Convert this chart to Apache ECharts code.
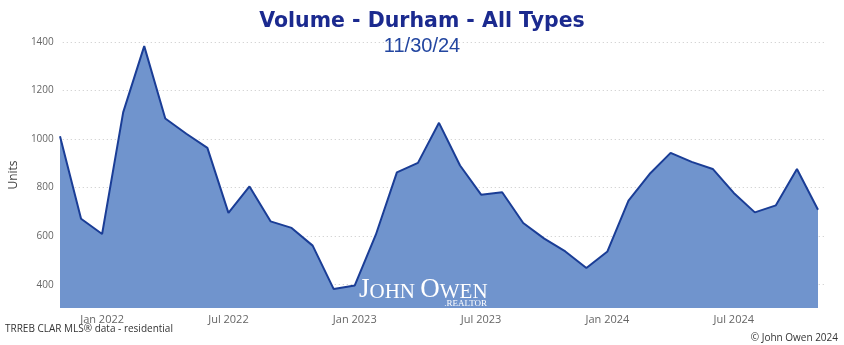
<!DOCTYPE html>
<html>
<head>
<meta charset="utf-8">
<script src="https://cdn.jsdelivr.net/npm/echarts@6/dist/echarts.min.js"></script>
<style>
html,body{margin:0;padding:0;background:#fff;}
#c{width:844px;height:345px;}
</style>
</head>
<body>
<div id="c"></div>
<script>
const months = [
  "Nov 2021","Dec 2021",
  "Jan 2022","Feb 2022","Mar 2022","Apr 2022","May 2022","Jun 2022","Jul 2022","Aug 2022","Sep 2022","Oct 2022","Nov 2022","Dec 2022",
  "Jan 2023","Feb 2023","Mar 2023","Apr 2023","May 2023","Jun 2023","Jul 2023","Aug 2023","Sep 2023","Oct 2023","Nov 2023","Dec 2023",
  "Jan 2024","Feb 2024","Mar 2024","Apr 2024","May 2024","Jun 2024","Jul 2024","Aug 2024","Sep 2024","Oct 2024","Nov 2024"
];
const volume = [
  1012, 672,
  609, 1110, 1383, 1085, 1022, 964, 696, 805, 661, 634, 561, 382,
  397, 606, 863, 902, 1067, 891, 771, 781, 654, 590, 537, 469,
  537, 746, 856, 943, 906, 877, 778, 698, 727, 877, 709
];
const shownLabels = ["Jan 2022","Jul 2022","Jan 2023","Jul 2023","Jan 2024","Jul 2024"];
const yMin = 304, yMax = 1400;

const chart = echarts.init(document.getElementById('c'));
chart.setOption({
  animation: false,
  backgroundColor: '#ffffff',
  title: [
    { text: 'Volume - Durham - All Types', left: 'center', top: 6,
      textStyle: { fontFamily: 'DejaVu Sans, Verdana', fontWeight: 'bold', fontSize: 20.5, color: '#1b2a8f' } },
    { text: '11/30/24', left: 'center', top: 31,
      textStyle: { fontFamily: 'Liberation Sans, Arial', fontWeight: 'normal', fontSize: 20, color: '#2346a0' } }
  ],
  grid: [
    { left: 53, right: 18, top: 42, bottom: 37 },
    { left: 60, right: 26, top: 42, bottom: 37 }
  ],
  xAxis: [
    { gridIndex: 0, type: 'category', data: months, show: false },
    { gridIndex: 1, type: 'category', data: months, boundaryGap: false,
      axisLine: { show: false }, axisTick: { show: false },
      axisLabel: {
        interval: function (i, v) { return shownLabels.indexOf(v) >= 0; },
        color: '#666', fontSize: 11, fontFamily: 'Open Sans, DejaVu Sans', margin: 6
      } }
  ],
  yAxis: [
    { gridIndex: 0, type: 'value', min: yMin, max: yMax,
      name: 'Units', nameLocation: 'middle', nameGap: 39, nameRotate: 90,
      nameTextStyle: { color: '#444', fontSize: 12, fontFamily: 'Open Sans, DejaVu Sans' },
      axisLine: { show: false }, axisTick: { show: false },
      axisLabel: { showMinLabel: false, formatter: function (v) { return String(v); },
        color: '#666', fontSize: 10, fontFamily: 'Open Sans, DejaVu Sans', margin: 9 },
      splitLine: { showMinLine: false, lineStyle: { type: [1, 3], color: '#c8c8c8', width: 1 } } },
    { gridIndex: 1, type: 'value', min: yMin, max: yMax, show: false, splitLine: { show: false } }
  ],
  series: [{
    type: 'line', xAxisIndex: 1, yAxisIndex: 1, data: volume,
    symbol: 'none', smooth: false,
    lineStyle: { color: '#1a3d96', width: 2 },
    areaStyle: { color: '#7094cd', opacity: 1 },
    z: 2
  }],
  graphic: [
    { type: 'text', left: 5, top: 324, style: { text: 'TRREB CLAR MLS® data - residential', fill: '#333', font: '10px "Open Sans", "DejaVu Sans"' } },
    { type: 'text', right: 6, top: 333, style: { text: '© John Owen 2024', fill: '#333', font: '10px "Open Sans", "DejaVu Sans"' } },
    { type: 'text', left: 359, top: 276, z: 10, style: {
        text: '{b|J}{s|OHN }{b|O}{s|WEN}', fill: '#ffffff',
        rich: {
          b: { fontFamily: 'Liberation Serif, DejaVu Serif', fontSize: 27, fill: '#ffffff', verticalAlign: 'bottom' },
          s: { fontFamily: 'Liberation Serif, DejaVu Serif', fontSize: 21, fill: '#ffffff', verticalAlign: 'bottom' }
        } } },
    { type: 'text', right: 357, top: 299, z: 10, style: { text: '.REALTOR', fill: '#ffffff', font: '9px "Liberation Serif", "DejaVu Serif"' } }
  ]
});
</script>
</body>
</html>
